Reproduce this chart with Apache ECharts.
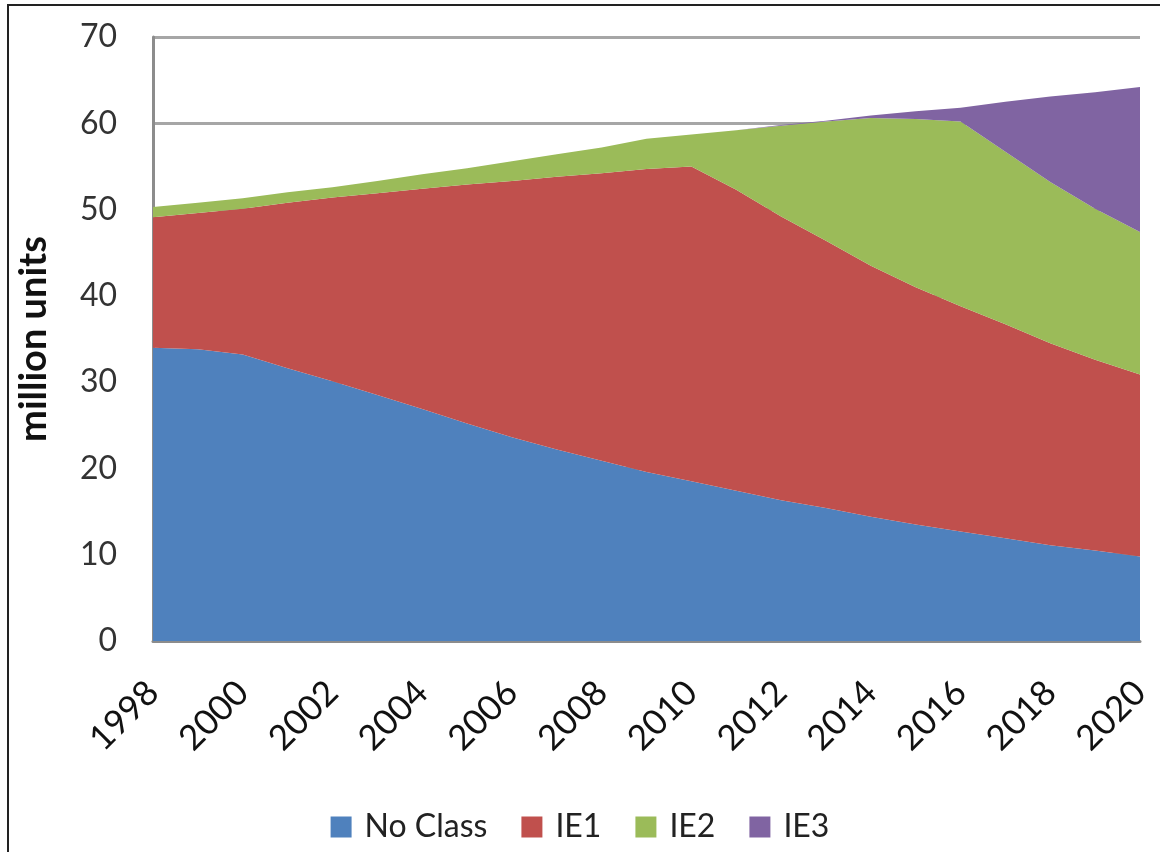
<!DOCTYPE html>
<html lang="en">

<head>
  <meta charset="UTF-8">
  <title>million units</title>
  <script src="https://cdn.jsdelivr.net/npm/echarts@6/dist/echarts.min.js"></script>
  <style>
    html, body { margin: 0; padding: 0; background: #fff; }
    #frame {
      position: absolute; left: 7px; top: 4px; width: 1160px; height: 852px;
      border-left: 2px solid #222; border-top: 2px solid #222; box-sizing: border-box;
    }
    #c1 { width: 1160px; height: 852px; }
  </style>
</head>

<body>
<div id="frame"></div>
<div id="c1"></div>

<script>
  // years on the x axis
  var years = ['1998', '1999', '2000', '2001', '2002', '2003', '2004', '2005', '2006', '2007', '2008', '2009',
    '2010', '2011', '2012', '2013', '2014', '2015', '2016', '2017', '2018', '2019', '2020'];

  // series values (million units)
  var noClass = [34.0, 33.8, 33.2, 31.6, 30.1, 28.5, 26.9, 25.2, 23.6, 22.2, 20.9, 19.6,
    18.5, 17.4, 16.3, 15.4, 14.4, 13.5, 12.7, 11.9, 11.1, 10.5, 9.8];
  var ie1 = [15.1, 15.8, 16.9, 19.2, 21.3, 23.4, 25.5, 27.7, 29.7, 31.6, 33.3, 35.1,
    36.5, 34.9, 32.9, 31.0, 29.1, 27.5, 26.1, 24.8, 23.4, 22.1, 21.1];
  var ie2 = [1.2, 1.2, 1.2, 1.2, 1.2, 1.4, 1.7, 1.9, 2.3, 2.6, 3.0, 3.5,
    3.7, 6.9, 10.5, 13.8, 17.1, 19.5, 21.4, 20.0, 18.7, 17.5, 16.5];
  var ie3 = [0, 0, 0, 0, 0, 0, 0, 0, 0, 0, 0, 0,
    0, 0, 0.1, 0.1, 0.3, 0.9, 1.6, 5.8, 9.9, 13.5, 16.8];

  var seriesNames = ['No Class', 'IE1', 'IE2', 'IE3'];
  var seriesColors = ['#4F81BD', '#C0504D', '#9BBB59', '#8064A2'];
  var seriesData = [noClass, ie1, ie2, ie3];

  var chartDom = document.getElementById('c1');
  var myChart = echarts.init(chartDom);
  var option;

  option = {
    animation: false,
    textStyle: { fontFamily: 'Lato, "Open Sans", sans-serif' },
    color: seriesColors,
    grid: {
      left: 153,
      right: 20,
      top: 37,
      bottom: 211
    },
    legend: {
      bottom: 4,
      left: 'center',
      icon: 'rect',
      itemWidth: 21,
      itemHeight: 21,
      itemGap: 34,
      textStyle: { fontSize: 32, color: '#222', padding: [0, 0, 0, 8] },
      data: seriesNames
    },
    xAxis: {
      type: 'category',
      boundaryGap: false,
      data: years,
      axisLine: { lineStyle: { color: '#8c8c8c', width: 3 } },
      axisTick: { show: false },
      axisLabel: {
        interval: 1,
        rotate: 45,
        margin: 46,
        fontSize: 35,
        color: '#111'
      }
    },
    yAxis: {
      type: 'value',
      min: 0,
      max: 70,
      interval: 10,
      name: 'million units',
      nameLocation: 'middle',
      nameRotate: 90,
      nameGap: 100,
      nameTextStyle: { fontSize: 38, fontWeight: 'bold', color: '#111' },
      axisLine: { show: true, lineStyle: { color: '#8c8c8c', width: 3 } },
      axisTick: { show: false },
      axisLabel: { fontSize: 32, color: '#333', margin: 36 },
      splitLine: { lineStyle: { color: '#a6a6a6', width: 3 } }
    },
    series: seriesNames.map(function (name, i) {
      return {
        name: name,
        type: 'line',
        stack: 'total',
        data: seriesData[i],
        symbol: 'none',
        lineStyle: { width: 0 },
        areaStyle: { color: seriesColors[i], opacity: 1 },
        z: 3
      };
    })
  };

  option && myChart.setOption(option);
</script>

</body>

</html>
